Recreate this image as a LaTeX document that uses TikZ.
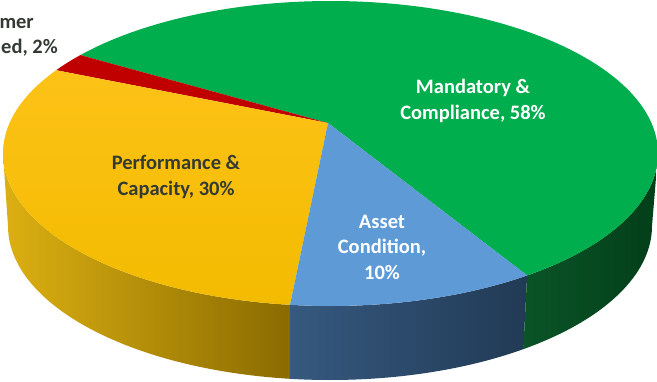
\documentclass[tikz,border=0pt]{standalone}
\usepackage{fontspec}
\setmainfont{Carlito}
\definecolor{gTop}{HTML}{00AE4E}
\definecolor{gSideL}{HTML}{0A5428}
\definecolor{gSideR}{HTML}{033E18}
\definecolor{rTop}{HTML}{C00000}
\definecolor{yTopA}{HTML}{FDC217}
\definecolor{yTopB}{HTML}{F3BB00}
\definecolor{ySideL}{HTML}{DCB012}
\definecolor{ySideR}{HTML}{8A6B00}
\definecolor{bTop}{HTML}{5E9AD6}
\definecolor{bSideL}{HTML}{36597F}
\definecolor{bSideR}{HTML}{213A55}
\definecolor{darktxt}{HTML}{333A33}
\begin{document}
\begin{tikzpicture}[x=1pt,y=1pt,
  lbl/.style={font=\fontsize{20.5}{25.5}\selectfont\bfseries, align=center, inner sep=0pt},
  lblw/.style={lbl, text=white},
  lbld/.style={lbl, text=darktxt}]
\def\tcx{330.5}\def\tcy{-153.5}\def\trx{327.5}\def\try{152.5}
\def\bcx{330}\def\bcy{-226}\def\brx{322}\def\bry{154}
\def\aBG{-53.1}\def\aGR{139.8}\def\aRY{146.9}\def\aYB{262.9}\def\aBGb{306.9}
\useasboundingbox (0,0) rectangle (657,-381);
\clip (0,0) rectangle (657,-381);
\coordinate (apex) at (328,-123);
% side faces
\path[left color=ySideL, right color=ySideR]
  ({\tcx+\trx*cos(180)},{\tcy+\try*sin(180)})
  arc[start angle=180,end angle=\aYB,x radius=\trx,y radius=\try]
  -- ({\bcx+\brx*cos(\aYB)},{\bcy+\bry*sin(\aYB)})
  arc[start angle=\aYB,end angle=180,x radius=\brx,y radius=\bry] -- cycle;
\path[left color=bSideL, right color=bSideR]
  ({\tcx+\trx*cos(\aYB)},{\tcy+\try*sin(\aYB)})
  arc[start angle=\aYB,end angle=\aBGb,x radius=\trx,y radius=\try]
  -- ({\bcx+\brx*cos(\aBGb)},{\bcy+\bry*sin(\aBGb)})
  arc[start angle=\aBGb,end angle=\aYB,x radius=\brx,y radius=\bry] -- cycle;
\path[left color=gSideL, right color=gSideR]
  ({\tcx+\trx*cos(\aBGb)},{\tcy+\try*sin(\aBGb)})
  arc[start angle=\aBGb,end angle=360,x radius=\trx,y radius=\try]
  -- ({\bcx+\brx*cos(360)},{\bcy+\bry*sin(360)})
  arc[start angle=360,end angle=\aBGb,x radius=\brx,y radius=\bry] -- cycle;
% top faces
\fill[gTop] (apex) -- ({\tcx+\trx*cos(\aBG)},{\tcy+\try*sin(\aBG)})
  arc[start angle=\aBG,end angle=\aGR,x radius=\trx,y radius=\try] -- cycle;
\fill[rTop] (apex) -- ({\tcx+\trx*cos(\aGR)},{\tcy+\try*sin(\aGR)})
  arc[start angle=\aGR,end angle=\aRY,x radius=\trx,y radius=\try] -- cycle;
\path[top color=yTopA, bottom color=yTopB] (apex) -- ({\tcx+\trx*cos(\aRY)},{\tcy+\try*sin(\aRY)})
  arc[start angle=\aRY,end angle=\aYB,x radius=\trx,y radius=\try] -- cycle;
\fill[bTop] (apex) -- ({\tcx+\trx*cos(\aYB)},{\tcy+\try*sin(\aYB)})
  arc[start angle=\aYB,end angle=\aBGb,x radius=\trx,y radius=\try] -- cycle;
% labels
\node[lblw] (mc) at (473,-101) {Mandatory \&\\Compliance, 58\%};
\node[lbld] (pc) at (176,-177) {Performance \&\\Capacity, 30\%};
\node[lblw] (ac) at (382,-247) {Asset\\Condition,\\10\%};
\node[lbld, anchor=base east] (cd1) at (34,-28) {mer};
\node[lbld, anchor=base east] (cd2) at (58,-53) {ed, 2\%};
\end{tikzpicture}
\end{document}
